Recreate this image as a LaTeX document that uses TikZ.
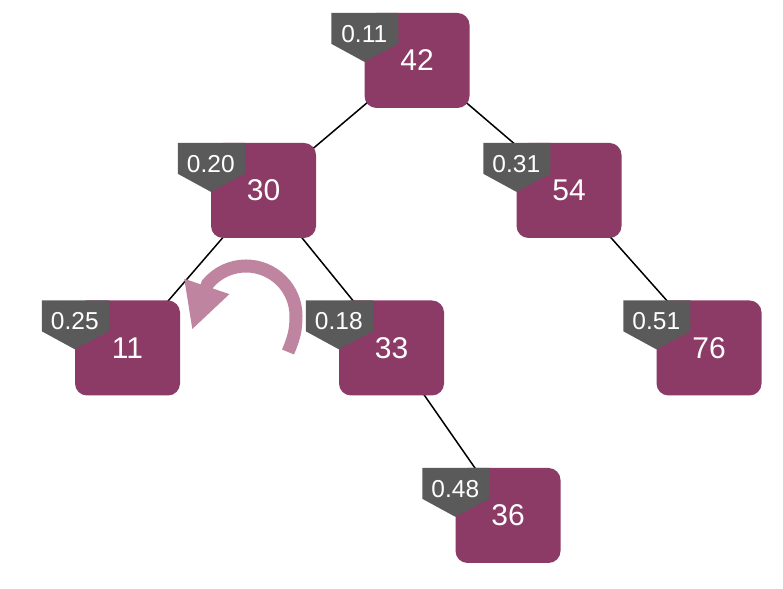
\documentclass[tikz,border=0pt]{standalone}
\usepackage{fontspec}
\setmainfont{Liberation Sans}
\usetikzlibrary{arrows.meta,backgrounds}
\definecolor{keyplum}{RGB}{140,58,102}
\definecolor{probgray}{RGB}{90,90,90}
\definecolor{rotpink}{RGB}{190,132,160}

\begin{document}
\begin{tikzpicture}[x=1pt,y=1pt,
    keybox/.style={fill=keyplum,rounded corners=12pt,minimum width=105pt,minimum height=95pt,
      inner sep=0pt,text=white,font=\fontsize{30}{36}\selectfont},
    probtag/.style={inner sep=0pt,text=white,font=\fontsize{24.5}{29}\selectfont},
    treeedge/.style={line width=1.5pt,black}]
    \useasboundingbox (0,0) rectangle (783,588);

    % Keys
    \node[keybox] (k42) at (417,527.5) {\raisebox{-2pt}{42}};
    \node[keybox] (k30) at (263.5,397.5) {\raisebox{-2pt}{30}};
    \node[keybox] (k54) at (569,397.5) {\raisebox{-2pt}{54}};
    \node[keybox] (k11) at (127.5,240) {\raisebox{-2pt}{11}};
    \node[keybox] (k33) at (391.5,240) {\raisebox{-2pt}{33}};
    \node[keybox] (k76) at (709,240) {\raisebox{-2pt}{76}};
    \node[keybox] (k36) at (508,72.5) {\raisebox{-2pt}{36}};

    % Priorities
    \foreach \n/\p in {k42/0.11,k30/0.20,k54/0.31,k11/0.25,k33/0.18,k76/0.51,k36/0.48}{
        \fill[probgray] ([xshift=-33pt]\n.north west) -- ++(67,0) -- ++(0,-31) -- ++(-34,-18) -- ++(-33,18) -- cycle;
        \node[probtag] (p\n) at ([yshift=-21pt]\n.north west) {\p};
    }

    % Edges
    \begin{scope}[on background layer]
        \draw[treeedge] (k42.center) -- (k30.center);
        \draw[treeedge] (k42.center) -- (k54.center);
        \draw[treeedge] (k30.center) -- (k11.center);
        \draw[treeedge] (k30.center) -- (k33.center);
        \draw[treeedge] (k54.center) -- (k76.center);
        \draw[treeedge] (k33.center) -- (k36.center);
    \end{scope}

    % Rotation
    \coordinate (rotstart) at (288,236);
    \coordinate (rottip) at (192,258);
    \draw[rotpink,line width=13pt,-{Triangle[length=46pt,width=44pt]}]
        (rotstart) .. controls (294,250) and (296,258) .. (296,272)
        arc[start angle=0,end angle=140,radius=50] -- (rottip);
\end{tikzpicture}
\end{document}
